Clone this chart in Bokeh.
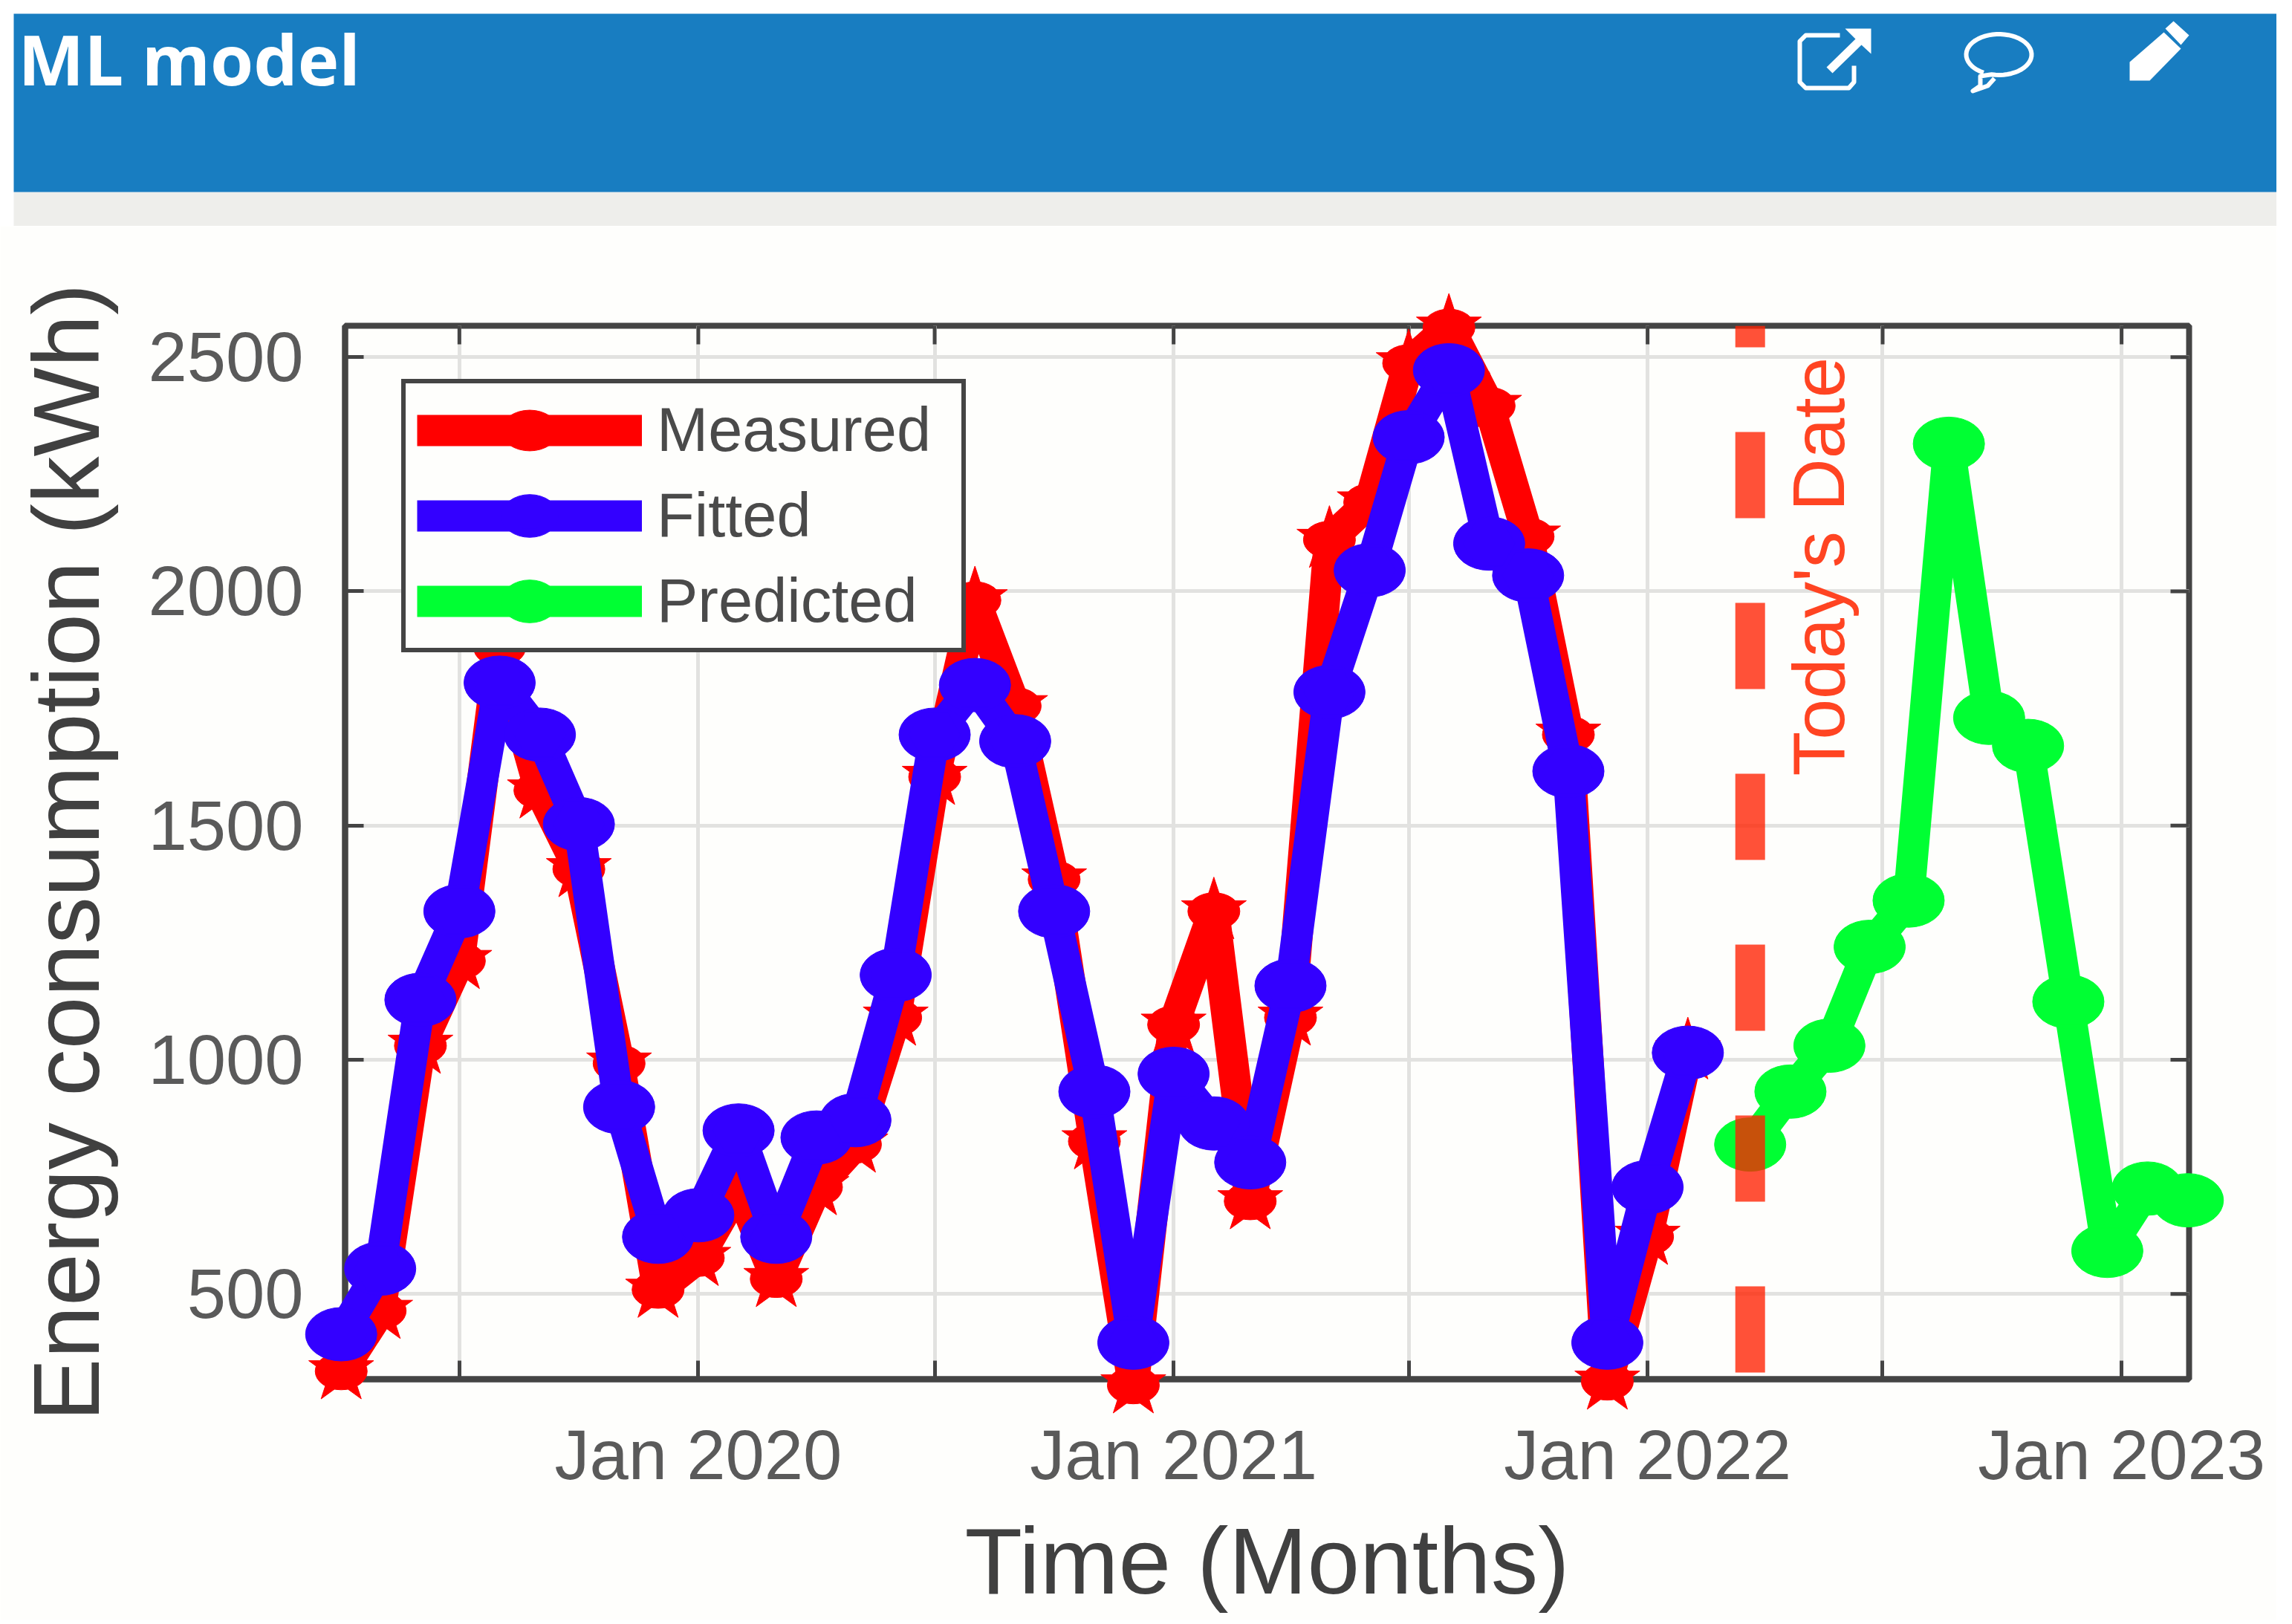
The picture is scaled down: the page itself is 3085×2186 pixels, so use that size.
from datetime import datetime
import numpy as np
from bokeh.embed import file_html
from bokeh.layouts import column
from bokeh.models import ColumnDataSource, FixedTicker, Label, Legend, LegendItem, Range1d, Span
from bokeh.plotting import figure
from bokeh.resources import INLINE

# data
fit_start = (2019, 4)
measured = [335, 464, 1030, 1211, 1880, 1575, 1407, 992, 509, 577, 728, 532, 728, 819, 1090, 1604, 1981, 1755,
            1385, 826, 305, 1075, 1317, 698, 1090, 2110, 2190, 2487, 2563, 2396, 2117, 1694, 313, 622, 1018]
fitted = [414, 554, 1128, 1317, 1805, 1694, 1503, 899, 622, 668, 849, 622, 834, 871, 1181, 1694, 1800, 1680,
          1317, 932, 396, 970, 864, 781, 1158, 1785, 2045, 2329, 2472, 2102, 2034, 1616, 396, 728, 1015]
pred_start = (2022, 3)
predicted = [819, 932, 1030, 1241, 1340, 2315, 1730, 1670, 1124, 592, 725, 700]
today = datetime(2022, 3, 21)

jan_ticks = [datetime(2020, 1, 1), datetime(2021, 1, 1), datetime(2022, 1, 1), datetime(2023, 1, 1)]
jan_labels = ["Jan 2020", "Jan 2021", "Jan 2022", "Jan 2023"]
jul_ticks = [datetime(2019, 7, 1), datetime(2020, 7, 1), datetime(2021, 7, 1), datetime(2022, 7, 1)]
y_ticks = [500, 1000, 1500, 2000, 2500]
x_start, x_end = datetime(2019, 4, 4), datetime(2023, 2, 22)
y_start, y_end = 318, 2567

WIDTH = 3064
FONT = "Liberation Sans"
RED, BLUE, GREEN = "#FF0000", "#3300FF", "#00FF33"
DARK = "#444444"
PAPER = "#FEFEFC"
HEAD = "#187DC1"


def months(start, n, day=1):
    y, m = start
    return [datetime(y + (m - 1 + i) // 12, (m - 1 + i) % 12 + 1, day) for i in range(n)]


def ms(d):
    return (d - datetime(1970, 1, 1)).total_seconds() * 1000


# header strip, drawn in page pixels
hdr = figure(width=WIDTH, height=304, output_backend="svg", toolbar_location=None, x_range=(0, WIDTH),
             y_range=(304, 0), x_axis_type=None, y_axis_type=None, min_border=0, outline_line_color=None,
             frame_align=False)
hdr.grid.visible = False
hdr.background_fill_color = "#FFFFFF"
hdr.border_fill_color = "#FFFFFF"
hdr.quad(left=[18], right=[WIDTH], top=[258], bottom=[304], fill_color="#EEEEEB", line_color=None)
hdr.quad(left=[18], right=[WIDTH], top=[18], bottom=[258], fill_color=HEAD, line_color=None)
hdr.text(x=[24], y=[78], text=["ML model"], text_font={"value": "Open Sans"}, text_font_style="bold",
         text_font_size={"value": "94px"}, text_color="#FFFFFF", text_baseline="middle")
# share icon
hdr.line([2476, 2430, 2422, 2422, 2430, 2488, 2495, 2495], [47, 47, 55, 110, 118, 118, 110, 88],
         line_color="#FFFFFF", line_width=6, line_join="round")
hdr.patch([2518, 2483, 2497, 2458, 2466, 2505, 2518], [38, 38, 52, 90, 98, 60, 72], fill_color="#FFFFFF",
          line_color=None)
# comment bubble
a = np.radians(np.linspace(118, 118 + 345, 50))
hdr.line(list(2690 + 44 * np.cos(a)) + [2665, 2665, 2655, 2675, 2684],
         list(73 + 27.5 * np.sin(a)) + [102, 115, 122, 115, 105],
         line_color="#FFFFFF", line_width=6, line_join="round")
# pencil
hdr.patch([2866, 2866, 2912, 2935, 2893], [108, 83, 43, 65, 108], fill_color="#FFFFFF", line_color=None)
hdr.patch([2914, 2925, 2946, 2935], [38, 28, 47, 60], fill_color="#FFFFFF", line_color=None)

# chart
p = figure(width=WIDTH, height=1876, output_backend="svg", toolbar_location=None, x_axis_type="datetime",
           x_range=Range1d(x_start, x_end), y_range=Range1d(y_start, y_end),
           x_axis_label="Time (Months)", y_axis_label="Energy consumption (kWh)",
           min_border_left=464, min_border_right=118, min_border_top=134, min_border_bottom=324,
           frame_align=False)
p.border_fill_color = PAPER
p.background_fill_color = PAPER
p.outline_line_color = DARK
p.outline_line_width = 8

jan_ms = [ms(t) for t in jan_ticks]
jul_ms = [ms(t) for t in jul_ticks]
p.xaxis.ticker = FixedTicker(ticks=jan_ms, minor_ticks=jul_ms)
p.xaxis.major_label_overrides = dict(zip(jan_ms, jan_labels))
p.yaxis.ticker = FixedTicker(ticks=y_ticks)
for ax in (p.xaxis[0], p.yaxis[0]):
    ax.axis_line_color = DARK
    ax.axis_line_width = 8
    ax.major_tick_line_color = DARK
    ax.major_tick_line_width = 5
    ax.major_tick_in = 25
    ax.major_tick_out = 0
    ax.major_label_text_font = FONT
    ax.major_label_text_font_size = "94px"
    ax.major_label_text_color = "#5A5A5A"
    ax.axis_label_text_font = FONT
    ax.axis_label_text_font_style = "normal"
    ax.axis_label_text_font_size = "127px"
    ax.axis_label_text_color = "#404040"
p.xaxis.minor_tick_line_color = DARK
p.xaxis.minor_tick_line_width = 5
p.xaxis.minor_tick_in = 25
p.xaxis.minor_tick_out = 0
p.yaxis.minor_tick_line_color = None
p.xaxis.major_label_standoff = 49
p.xaxis.axis_label_standoff = 16
p.yaxis.major_label_standoff = 56
p.yaxis.axis_label_standoff = 36
p.yaxis.major_label_orientation = "horizontal"

p.xgrid.ticker = FixedTicker(ticks=jan_ms, minor_ticks=jul_ms)
p.ygrid.ticker = FixedTicker(ticks=y_ticks)
p.grid.grid_line_color = "#E2E2E0"
p.grid.grid_line_width = 5
p.xgrid.minor_grid_line_color = "#E2E2E0"
p.xgrid.minor_grid_line_width = 5

# box ticks on the top and right edges
x_span = ms(x_end) - ms(x_start)
tick_dy = (y_end - y_start) * 25 / 1418
tick_dx = x_span * 25 / 2482
all_ms = jan_ms + jul_ms
p.segment(all_ms, [y_end] * 8, all_ms, [y_end - tick_dy] * 8, line_color=DARK, line_width=5)
p.segment([ms(x_end)] * 5, y_ticks, [ms(x_end) - tick_dx] * 5, y_ticks, line_color=DARK, line_width=5)

fit_src = ColumnDataSource(data={"t": months(fit_start, len(fitted)), "measured": measured, "fitted": fitted})
pred_src = ColumnDataSource(data={"t": months(pred_start, len(predicted), 21), "predicted": predicted})


def series(y, source, color, marker_w, marker_h, star=False):
    # overlay level so the markers may run past the axes box, as in the original
    line = p.line("t", y, source=source, line_color=color, line_width=42, line_join="round", level="overlay")
    blob = p.ellipse("t", y, source=source, width=marker_w, height=marker_h, width_units="screen",
                     height_units="screen", fill_color=color, line_color=color, level="overlay")
    extra = p.scatter("t", y, source=source, marker="star" if star else "hex", size=92 if star else 70,
                      fill_color=color, line_color=color, level="overlay")
    return [line, blob, extra]


r_meas = series("measured", fit_src, RED, 70, 50, star=True)
r_fit = series("fitted", fit_src, BLUE, 96, 72)
r_pred = series("predicted", pred_src, GREEN, 96, 72)

p.add_layout(Span(location=ms(today), dimension="height", line_color="#FF2000", line_alpha=0.78, line_width=40,
                  line_dash=[116, 114], line_dash_offset=87, level="overlay"))
p.add_layout(Label(x=ms(today), y=1606, x_offset=92, text="Today's Date", angle=90, angle_units="deg",
                   text_font=FONT, text_font_size="98px", text_color="#FF4422", text_align="left",
                   text_baseline="alphabetic"))

legend = Legend(items=[LegendItem(label="Measured", renderers=r_meas),
                       LegendItem(label="Fitted", renderers=r_fit),
                       LegendItem(label="Predicted", renderers=r_pred)],
                location=(76, 978), orientation="vertical", margin=0, padding=15, spacing=19,
                glyph_width=303, glyph_height=96, label_standoff=20, label_width=395, label_height=96,
                label_text_font=FONT, label_text_font_size="83px", label_text_color="#4A4A4A",
                label_text_baseline="middle", border_line_color=DARK, border_line_width=6, border_line_alpha=1,
                background_fill_color=PAPER, background_fill_alpha=1, level="overlay")
p.add_layout(legend, "center")

open("out.html", "w").write(file_html(column(hdr, p, spacing=0), INLINE))
